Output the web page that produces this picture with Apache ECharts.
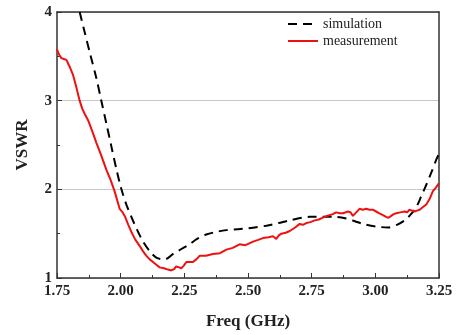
<!DOCTYPE html>
<html><head><meta charset="utf-8">
<script src="https://cdn.jsdelivr.net/npm/echarts@6/dist/echarts.min.js"></script>
<style>html,body{margin:0;padding:0;background:#fff}#c{width:463px;height:335px}</style>
</head><body><div id="c"></div>
<script>
const xTicks = [1.75, 2.00, 2.25, 2.50, 2.75, 3.00, 3.25];
const yTicks = [1, 2, 3, 4];
const simFreq = [1.839,1.858,1.878,1.904,1.924,1.944,1.963,1.983,2.003,2.022,2.042,2.065,2.088,2.115,2.14,2.173,2.205,2.24,2.27,2.30,2.336,2.375,2.415,2.46,2.50,2.572,2.62,2.664,2.742,2.80,2.834,2.886,2.92,2.951,3.004,3.05,3.085,3.115,3.14,3.161,3.18,3.20,3.22,3.24,3.25];
const simVSWR = [4.0,3.78,3.55,3.26,3.0,2.74,2.49,2.23,2.0,1.83,1.69,1.54,1.41,1.30,1.23,1.21,1.27,1.33,1.38,1.44,1.49,1.52,1.54,1.55,1.56,1.59,1.62,1.65,1.69,1.69,1.69,1.67,1.64,1.61,1.58,1.57,1.60,1.65,1.72,1.80,1.92,2.05,2.19,2.34,2.40];
const measFreq = [1.75,1.758,1.767,1.777,1.787,1.80,1.813,1.826,1.839,1.849,1.859,1.872,1.888,1.904,1.924,1.944,1.96,1.976,1.996,2.008,2.016,2.03,2.042,2.058,2.075,2.088,2.101,2.114,2.127,2.14,2.153,2.17,2.186,2.199,2.21,2.218,2.23,2.238,2.248,2.258,2.27,2.284,2.297,2.31,2.335,2.362,2.39,2.415,2.44,2.467,2.49,2.52,2.54,2.559,2.58,2.598,2.611,2.621,2.631,2.648,2.664,2.685,2.703,2.716,2.729,2.745,2.762,2.778,2.794,2.81,2.833,2.846,2.86,2.873,2.893,2.903,2.912,2.925,2.938,2.951,2.964,2.977,2.99,3.003,3.016,3.03,3.042,3.052,3.062,3.072,3.082,3.098,3.115,3.125,3.134,3.144,3.154,3.164,3.174,3.187,3.20,3.213,3.226,3.238,3.25];
const measVSWR = [3.58,3.52,3.48,3.47,3.46,3.38,3.29,3.15,3.0,2.91,2.85,2.78,2.66,2.53,2.38,2.22,2.11,1.98,1.78,1.74,1.70,1.60,1.52,1.43,1.36,1.30,1.25,1.21,1.18,1.15,1.12,1.11,1.095,1.085,1.10,1.13,1.12,1.11,1.14,1.18,1.18,1.18,1.21,1.25,1.25,1.27,1.28,1.32,1.34,1.38,1.37,1.41,1.43,1.45,1.46,1.47,1.44,1.48,1.50,1.51,1.53,1.57,1.61,1.60,1.62,1.63,1.65,1.66,1.68,1.70,1.72,1.74,1.73,1.73,1.75,1.74,1.70,1.74,1.78,1.77,1.78,1.77,1.77,1.75,1.73,1.71,1.69,1.68,1.70,1.72,1.73,1.74,1.75,1.74,1.77,1.76,1.75,1.76,1.77,1.80,1.83,1.89,1.98,2.02,2.07];
const seriesNames = ['simulation', 'measurement'];

const font = '"Liberation Serif", "Times New Roman", serif';
const zip = (a, b) => a.map((v, i) => [v, b[i]]);
const chart = echarts.init(document.getElementById('c'), null, {renderer: 'canvas'});
chart.setOption({
  animation: false,
  backgroundColor: '#fff',
  grid: {left: 57, right: 24, top: 12, bottom: 49},
  legend: {
    orient: 'vertical', left: 282, top: 12, itemGap: 3, itemWidth: 30, itemHeight: 12,
    itemStyle: {opacity: 0},
    textStyle: {fontFamily: font, fontSize: 14, color: '#222', padding: [0, 0, 0, 0]},
    data: seriesNames
  },
  xAxis: [{
    type: 'value', min: xTicks[0], max: xTicks[xTicks.length - 1], interval: 0.25,
    name: 'Freq (GHz)', nameLocation: 'middle', nameGap: 35,
    nameTextStyle: {fontFamily: font, fontSize: 17, fontWeight: 'bold', color: '#222'},
    axisLine: {show: true, onZero: false, lineStyle: {color: '#333', width: 1.5}},
    axisTick: {inside: true, length: 5, lineStyle: {color: '#333'}},
    minorTick: {show: true, splitNumber: 2, length: 3, lineStyle: {color: '#333'}},
    splitLine: {show: false},
    axisLabel: {fontFamily: font, fontSize: 15, fontWeight: 'bold', color: '#222', margin: 6,
      formatter: v => v.toFixed(2)}
  }, {
    type: 'value', position: 'top', min: xTicks[0], max: xTicks[xTicks.length - 1],
    axisLine: {show: true, onZero: false, lineStyle: {color: '#333', width: 1.5}},
    axisTick: {show: false}, axisLabel: {show: false}, splitLine: {show: false}
  }],
  yAxis: [{
    type: 'value', min: yTicks[0], max: yTicks[yTicks.length - 1], interval: 1,
    name: 'VSWR', nameLocation: 'middle', nameGap: 26, nameRotate: 90,
    nameTextStyle: {fontFamily: font, fontSize: 17, fontWeight: 'bold', color: '#222'},
    axisLine: {show: true, onZero: false, lineStyle: {color: '#333', width: 1.5}},
    axisTick: {inside: true, length: 5, lineStyle: {color: '#333'}},
    minorTick: {show: true, splitNumber: 2, length: 3, lineStyle: {color: '#333'}},
    splitLine: {show: true, lineStyle: {color: '#c8c8c8', width: 1}},
    axisLabel: {fontFamily: font, fontSize: 15, fontWeight: 'bold', color: '#222', margin: 5}
  }, {
    type: 'value', position: 'right', min: yTicks[0], max: yTicks[yTicks.length - 1],
    axisLine: {show: true, onZero: false, lineStyle: {color: '#333', width: 1.5}},
    axisTick: {show: false}, axisLabel: {show: false}, splitLine: {show: false}
  }],
  series: [{
    name: seriesNames[0], type: 'line', showSymbol: false, symbol: 'none', smooth: 0.3,
    data: zip(simFreq, simVSWR), color: '#000',
    lineStyle: {color: '#000', width: 2, type: [9, 6]}, z: 3
  }, {
    name: seriesNames[1], type: 'line', showSymbol: false, symbol: 'none',
    data: zip(measFreq, measVSWR), color: '#ee1111',
    lineStyle: {color: '#ee1111', width: 2}, z: 4
  }]
});
</script></body></html>
